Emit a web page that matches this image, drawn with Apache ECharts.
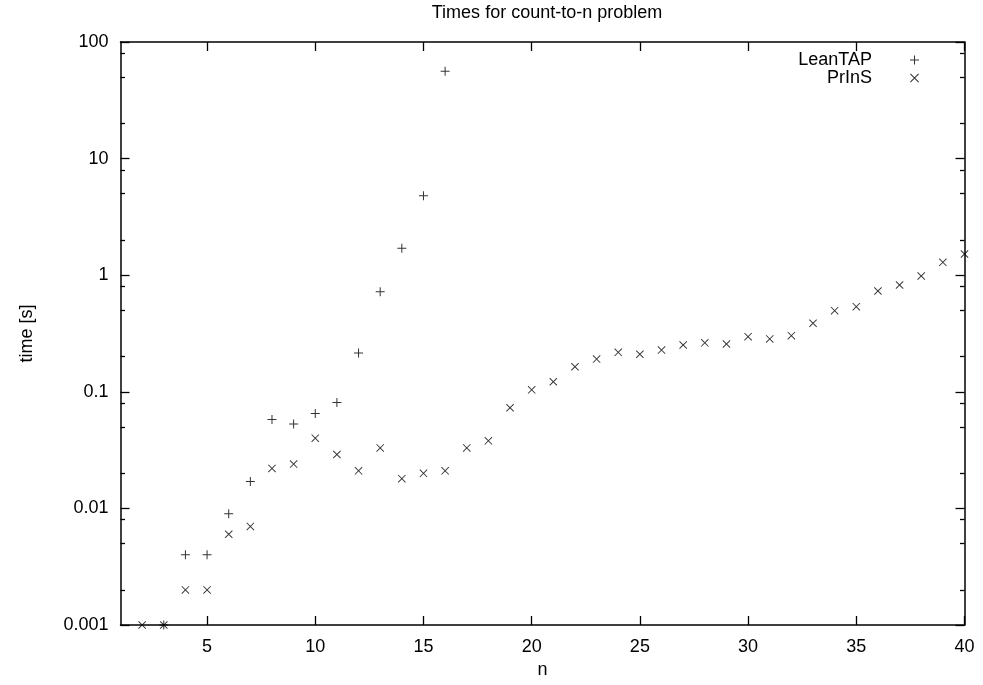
<!DOCTYPE html>
<html>
<head>
<meta charset="utf-8">
<script src="https://cdn.jsdelivr.net/npm/echarts@6/dist/echarts.min.js"></script>
<style>html,body{margin:0;padding:0;background:#fff}#c{width:983px;height:685px}</style>
</head>
<body>
<div id="c"></div>
<script>
var titleText = 'Times for count-to-n problem';
var xName = 'n';
var yName = 'time [s]';
var seriesNames = ['LeanTAP', 'PrInS'];
var leanN = [3,4,5,6,7,8,9,10,11,12,13,14,15,16];
var leanTime = [0.001,0.004,0.004,0.009,0.017,0.058,0.053,0.065,0.081,0.215,0.72,1.7,4.8,56];
var prinsN = [2,3,4,5,6,7,8,9,10,11,12,13,14,15,16,17,18,19,20,21,22,23,24,25,26,27,28,29,30,31,32,33,34,35,36,37,38,39,40];
var prinsTime = [0.001,0.001,0.002,0.002,0.006,0.007,0.022,0.024,0.040,0.029,0.021,0.033,0.018,0.020,0.021,0.033,0.038,0.073,0.104,0.122,0.164,0.191,0.218,0.210,0.228,0.252,0.263,0.257,0.297,0.284,0.303,0.387,0.496,0.537,0.732,0.824,0.984,1.29,1.52];
var xTicks = [5,10,15,20,25,30,35,40];
var yMinorTicks = [0.002,0.005,0.008,0.02,0.05,0.08,0.2,0.5,0.8,2,5,8,20,50,80];

var FONT = 'Liberation Sans, Arial, sans-serif';
var FS = 18;
var plusPath = 'path://M0,7.1L16,7.1L16,8.9L0,8.9Z M7.1,0L8.9,0L8.9,16L7.1,16Z';
var crossPath = 'path://M0,1.3L1.3,0L16,14.7L14.7,16Z M14.7,0L16,1.3L1.3,16L0,14.7Z';

function pairs(xs, ys){ return xs.map(function(x,i){ return [x, ys[i]]; }); }
var minorLog = yMinorTicks.map(function(v){ return Math.log10(v); });

var chart = echarts.init(document.getElementById('c'), null, {renderer:'canvas'});
var lineStyle = {color:'#000', width:1.5};
var tickStyle = {color:'#000', width:1.3};
chart.setOption({
  backgroundColor:'#fff',
  animation:false,
  textStyle:{fontFamily:FONT, color:'#000'},
  title:{text:titleText, left:542, textAlign:'center', top:-1,
    textStyle:{fontFamily:FONT, fontSize:FS, fontWeight:'normal', color:'#000'}},
  legend:{orient:'vertical', align:'right', right:59, top:46, itemWidth:9, itemHeight:9, itemGap:0,
    data:seriesNames, selectedMode:false,
    textStyle:{fontFamily:FONT, fontSize:FS, color:'#000', lineHeight:17, padding:[0,33,0,0]}},
  grid:{left:120.5, right:18.5, top:42, bottom:60, containLabel:false},
  xAxis:[
    {type:'value', min:1, max:40, position:'bottom', name:xName, nameLocation:'middle', nameGap:33,
     nameTextStyle:{fontFamily:FONT, fontSize:FS, color:'#000'},
     axisLine:{onZero:false, lineStyle:lineStyle}, splitLine:{show:false},
     axisTick:{inside:true, length:9, customValues:xTicks, lineStyle:tickStyle},
     axisLabel:{customValues:xTicks, margin:13, fontFamily:FONT, fontSize:FS, color:'#000'}},
    {type:'value', min:1, max:40, position:'top',
     axisLine:{onZero:false, lineStyle:lineStyle}, splitLine:{show:false},
     axisTick:{inside:true, length:9, customValues:xTicks, lineStyle:tickStyle},
     axisLabel:{show:false}}
  ],
  yAxis:[
    {type:'log', logBase:10, min:0.001, max:100, position:'left', name:yName, nameLocation:'middle', nameGap:84,
     nameTextStyle:{fontFamily:FONT, fontSize:FS, color:'#000'},
     axisLine:{onZero:false, lineStyle:lineStyle}, splitLine:{show:false}, minorTick:{show:false},
     axisTick:{inside:true, length:9, lineStyle:tickStyle},
     axisLabel:{margin:12, fontFamily:FONT, fontSize:FS, color:'#000',
       formatter:function(v){ return String(+v.toPrecision(6)); }}},
    {type:'log', logBase:10, min:0.001, max:100, position:'right',
     axisLine:{onZero:false, lineStyle:lineStyle}, splitLine:{show:false},
     axisTick:{inside:true, length:9, lineStyle:tickStyle}, axisLabel:{show:false}},
    {type:'value', min:-3, max:2, position:'left',
     axisLine:{show:false, onZero:false}, splitLine:{show:false},
     axisTick:{inside:true, length:4.5, customValues:minorLog, lineStyle:tickStyle}, axisLabel:{show:false}},
    {type:'value', min:-3, max:2, position:'right',
     axisLine:{show:false, onZero:false}, splitLine:{show:false},
     axisTick:{inside:true, length:4.5, customValues:minorLog, lineStyle:tickStyle}, axisLabel:{show:false}}
  ],
  series:[
    {name:seriesNames[0], type:'scatter', xAxisIndex:0, yAxisIndex:0, data:pairs(leanN, leanTime),
     symbol:plusPath, symbolSize:9, itemStyle:{color:'#000'}},
    {name:seriesNames[1], type:'scatter', xAxisIndex:0, yAxisIndex:0, data:pairs(prinsN, prinsTime),
     symbol:crossPath, symbolSize:8, itemStyle:{color:'#000'}}
  ]
});
</script>
</body>
</html>
